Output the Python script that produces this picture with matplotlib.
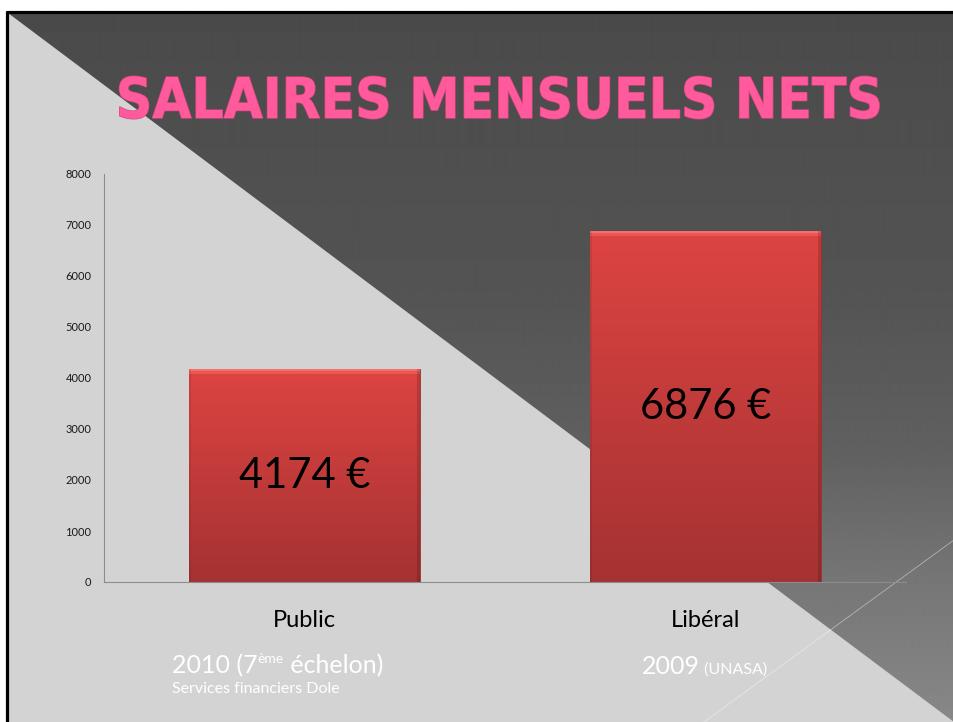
import numpy as np
import matplotlib
matplotlib.use("Agg")
import matplotlib.pyplot as plt
from matplotlib.patches import Polygon, Rectangle
import matplotlib.patheffects as pe

# ---------------- data ----------------
categories = ["Public", "Libéral"]
salaries = [4174, 6876]
value_labels = ["4174 €", "6876 €"]
y_ticks = [0, 1000, 2000, 3000, 4000, 5000, 6000, 7000, 8000]
title = "SALAIRES MENSUELS NETS"
public_note = ["2010 (7", "ème", " échelon)"]
public_source = "Services financiers Dole"
liberal_note = ["2009", " (UNASA)"]

W, H = 954, 722
fig = plt.figure(figsize=(W / 100, H / 100), dpi=100)
fig.patch.set_facecolor("white")

# ---------------- background (pixel coordinates) ----------------
bg = fig.add_axes([0, 0, 1, 1], zorder=0)
bg.set_xlim(0, W)
bg.set_ylim(H, 0)
bg.axis("off")

bg.add_patch(Rectangle((7, 12), W, H, facecolor="#d3d3d3", edgecolor="none", zorder=1))
ys = np.arange(H)
vals = np.interp(ys, [12, 300, 450, 580, 722], [74, 84, 96, 118, 136]) / 255.0
grad = np.repeat(vals[:, None], 4, axis=1)
im = bg.imshow(grad, cmap="gray", vmin=0, vmax=1, extent=(0, W, H, 0),
               aspect="auto", origin="upper", interpolation="bilinear", zorder=1.5)
slope = (722 - 13) / (954 - 8)
tri = Polygon([(8, 13), (W + 20, 13), (W + 20, 13 + (W + 20 - 8) * slope)],
              closed=True, transform=bg.transData, facecolor="none", edgecolor="none")
bg.add_patch(tri)
im.set_clip_path(tri)
bg.set_xlim(0, W)
bg.set_ylim(H, 0)

# faint decorative line
bg.plot([704, 954], [722, 540], color="white", lw=0.6, alpha=0.45, zorder=2)
# black frame
bg.plot([7, 7], [11, H + 2], color="black", lw=2.3, solid_capstyle="butt", zorder=3)
bg.plot([6, W + 2], [12, 12], color="black", lw=2.3, solid_capstyle="butt", zorder=3)

# title
bg.text(499.5, 118, title, ha="center", va="baseline", fontsize=40.5,
        fontweight="bold", fontstretch="condensed", family="DejaVu Sans",
        color="#FF5A9B", zorder=4,
        path_effects=[pe.withStroke(linewidth=1.0, foreground="#d8447f")])

# ---------------- chart ----------------
ax = fig.add_axes([104 / W, (H - 582) / H, 802 / W, 408 / H], zorder=1)
ax.patch.set_alpha(0)
ax.set_xlim(-0.5, 1.5)
ax.set_ylim(0, 8000)
x = np.arange(len(categories))
bars = ax.bar(x, salaries, width=0.574, color="#cc3f3d", edgecolor="#9c2f2f",
              linewidth=0.6, zorder=2)

px_per_unit = 408 / 8000.0
for b in bars:
    h = b.get_height()
    npx = max(int(round(h * px_per_unit)), 2)
    t = np.linspace(0, 1, npx)[:, None]
    top = np.array([221, 68, 66]) / 255.0
    bot = np.array([165, 50, 50]) / 255.0
    col = top + (bot - top) * t
    col = np.repeat(col[:, None, :], 230, axis=1).reshape(npx, 230, 3)
    col[:2] = np.array([246, 112, 108]) / 255.0
    col[2:5] = np.array([234, 88, 84]) / 255.0
    col[:, -3:] *= 0.85
    col[:, :2] *= 0.92
    gi = ax.imshow(col, extent=(b.get_x(), b.get_x() + b.get_width(), 0, h),
                   aspect="auto", origin="upper", zorder=2.5, interpolation="bilinear")
    gi.set_clip_path(b)
for xi, v, lab in zip(x, salaries, value_labels):
    ax.text(xi, v / 2, lab, ha="center", va="center", fontsize=30,
            family="Lato", color="black", zorder=4)

ax.set_xlim(-0.5, 1.5)
ax.set_ylim(0, 8000)
ax.set_aspect("auto")
ax.set_yticks(y_ticks)
ax.set_yticklabels([str(v) for v in y_ticks], family="Lato", fontsize=8, color="#1a1a1a")
ax.set_xticks(x)
ax.set_xticklabels(categories, family="Lato", fontsize=17, color="black")
ax.tick_params(axis="y", length=0, pad=9)
ax.tick_params(axis="x", length=0, pad=20)
for s in ["top", "right"]:
    ax.spines[s].set_visible(False)
for s in ["left", "bottom"]:
    ax.spines[s].set_color("#8c8c8c")
    ax.spines[s].set_linewidth(0.8)

# ---------------- notes below categories ----------------
fig.canvas.draw()
r = fig.canvas.get_renderer()


def place(parts, x0, y0):
    xc = x0
    for s, size, dy in parts:
        tt = bg.text(xc, y0 + dy, s, fontsize=size, color="white", family="Lato",
                     ha="left", va="baseline", zorder=4)
        bb = tt.get_window_extent(renderer=r)
        xc = bb.x1


place([(public_note[0], 18, 0), (public_note[1], 10, -10), (public_note[2], 18, 0)], 172, 673)
place([(public_source, 11.5, 0)], 172, 693)
place([(liberal_note[0], 18, 0), (liberal_note[1], 11.5, 0)], 642, 674)

fig.savefig("out.png", dpi=100)
